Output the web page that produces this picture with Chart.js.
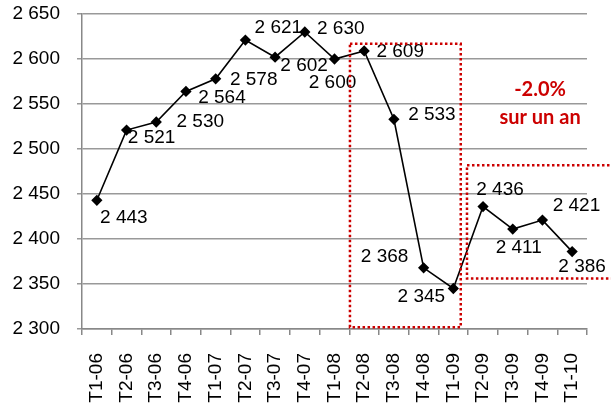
<!DOCTYPE html>
<html>
<head>
<meta charset="utf-8">
<script src="https://cdn.jsdelivr.net/npm/chart.js@4.4.1/dist/chart.umd.min.js"></script>
<style>
  html, body { margin: 0; padding: 0; background: #fff; }
  #wrap { width: 611px; height: 407px; position: relative; }
</style>
</head>
<body>
<div id="wrap"><canvas id="emploiChart"></canvas></div>
<script>
var quarters = ['T1-06','T2-06','T3-06','T4-06','T1-07','T2-07','T3-07','T4-07','T1-08',
                'T2-08','T3-08','T4-08','T1-09','T2-09','T3-09','T4-09','T1-10'];
var effectifs = [2443, 2521, 2530, 2564, 2578, 2621, 2602, 2630, 2600,
                 2609, 2533, 2368, 2345, 2436, 2411, 2421, 2386];
var yTicks = [2300, 2350, 2400, 2450, 2500, 2550, 2600, 2650];

// where each value label sits relative to its point (px)
var labelOffsets = [[27,17],[25,8],[44,0],[36,6],[38,1],[33,-12],[29,9],[36,-3],[-2,24],
                    [36,1],[38,-5],[-39,-11],[-32,8],[17,-17],[6,19],[34,-14],[10,15]];

function fmt(v) {
  var s = String(v);
  return s.slice(0, 1) + ' ' + s.slice(1);
}

var red = '#cc0000';
var font = '"Liberation Sans", Arial, sans-serif';

var overlay = {
  id: 'overlay',
  afterDatasetsDraw: function (chart) {
    var c = chart.ctx, xs = chart.scales.x, ys = chart.scales.y;
    var meta = chart.getDatasetMeta(0);
    c.save();
    // value labels
    c.font = '19px ' + font;
    c.fillStyle = '#000';
    c.textAlign = 'center';
    c.textBaseline = 'middle';
    meta.data.forEach(function (pt, i) {
      c.fillText(fmt(effectifs[i]), pt.x + labelOffsets[i][0], pt.y + labelOffsets[i][1]);
    });
    // dotted boxes
    c.strokeStyle = red;
    c.lineWidth = 2.5;
    c.setLineDash([2.5, 2.5]);
    var x1 = xs.getPixelForValue(8.52), x2 = xs.getPixelForValue(12.25);
    var y1 = ys.getPixelForValue(2617), y2 = ys.getPixelForValue(2302);
    c.strokeRect(x1, y1, x2 - x1, y2 - y1);
    var x3 = xs.getPixelForValue(12.46), x4 = chart.width + 5;
    var y3 = ys.getPixelForValue(2482), y4 = ys.getPixelForValue(2356);
    c.strokeRect(x3, y3, x4 - x3, y4 - y3);
    c.setLineDash([]);
    // annotation
    c.fillStyle = red;
    c.font = 'bold 20px Lato, "Liberation Sans", sans-serif';
    var tx = xs.getPixelForValue(14.92);
    c.fillText('-2.0%', tx, ys.getPixelForValue(2566));
    c.fillText('sur un an', tx, ys.getPixelForValue(2535));
    c.restore();
  }
};

var ctx = document.getElementById('emploiChart').getContext('2d');
var emploiChart = new Chart(ctx, {
  type: 'line',
  data: {
    labels: quarters,
    datasets: [{
      data: effectifs,
      borderColor: '#000',
      backgroundColor: '#000',
      borderWidth: 1.6,
      pointStyle: 'rectRot',
      pointRadius: 4.5,
      pointHoverRadius: 4.5,
      tension: 0
    }]
  },
  options: {
    responsive: true,
    maintainAspectRatio: false,
    animation: false,
    layout: { padding: { top: 14, right: 24, left: 0, bottom: 0 } },
    plugins: { legend: { display: false }, tooltip: { enabled: false } },
    scales: {
      x: {
        offset: true,
        grid: { offset: true, drawOnChartArea: false, color: '#888', tickLength: 6, lineWidth: 1.5 },
        border: { color: '#888', width: 1.5 },
        ticks: {
          color: '#000', maxRotation: 90, minRotation: 90, autoSkip: false, padding: 18,
          font: { family: font, size: 19 }
        },
        afterFit: function (s) { s.height = 78; s.paddingLeft = 0; s.paddingRight = 0; }
      },
      y: {
        min: 2300, max: 2650,
        afterBuildTicks: function (s) { s.ticks = yTicks.map(function (v) { return { value: v }; }); },
        grid: { color: '#999', lineWidth: 1.5, tickLength: 5 },
        border: { color: '#888', width: 1.5 },
        ticks: {
          color: '#000', padding: 17,
          font: { family: font, size: 19 },
          callback: function (v) { return fmt(v); }
        },
        afterFit: function (s) { s.width = 82; s.paddingTop = 0; s.paddingBottom = 0; }
      }
    }
  },
  plugins: [overlay]
});
</script>
</body>
</html>
